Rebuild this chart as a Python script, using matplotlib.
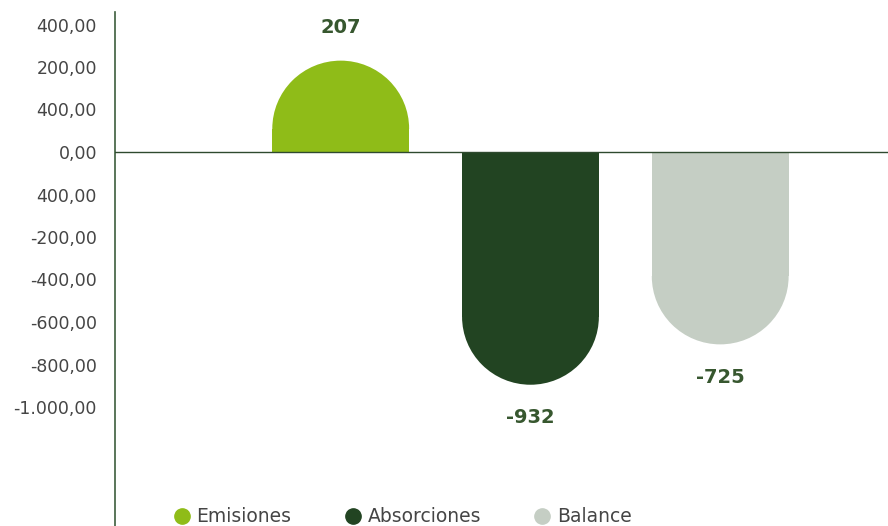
import matplotlib.pyplot as plt
from matplotlib.patches import Rectangle, Ellipse
from matplotlib.lines import Line2D

categories = ["Emisiones", "Absorciones", "Balance"]
values = [207, -932, -725]
colors = ["#8fbc18", "#224422", "#c5cec4"]
tick_labels = ["400,00", "200,00", "400,00", "0,00", "400,00", "-200,00",
               "-400,00", "-600,00", "-800,00", "-1.000,00"]

W, H = 888, 526
fig = plt.figure(figsize=(W / 100, H / 100), dpi=100)
ax = fig.add_axes([115 / W, 0, 1 - 115 / W, (H - 12) / H])

units_per_px = 1 / 0.195
ax.set_ylim(-(H - 152) * units_per_px, (152 - 12) * units_per_px)
x_per_px = 1 / 190
ax.set_xlim(-(341 - 115) * x_per_px, 2 + (888 - 720) * x_per_px)

bar_w = 137 * x_per_px
radius_y = 68 * units_per_px    # half-circle cap height in data units
extra = 51 * units_per_px       # rounded end sticks out past the value

for i, (v, c) in enumerate(zip(values, colors)):
    sign = 1 if v > 0 else -1
    end = v + sign * extra
    body_end = end - sign * radius_y
    ax.add_patch(Rectangle((i - bar_w / 2, 0), bar_w, body_end, color=c, lw=0))
    cap = Ellipse((i, body_end), bar_w, 2 * radius_y, color=c, lw=0)
    ax.add_patch(cap)
    clip = Rectangle((i - bar_w, body_end), 2 * bar_w, sign * radius_y * 1.1,
                     transform=ax.transData, visible=False)
    ax.add_patch(clip)
    cap.set_clip_path(clip)
    ax.annotate(str(v), (i, end), xytext=(0, 23.5 * sign), textcoords="offset points",
                ha="center", va="center", fontsize=14, fontweight="bold", color="#37572f")

ax.axhline(0, color="#2f4a2f", lw=1, zorder=3)
for s in ["top", "right", "bottom"]:
    ax.spines[s].set_visible(False)
ax.spines["left"].set_color("#3d5e3d")
ax.spines["left"].set_linewidth(1.2)
ax.set_xticks([])
step = 42.5 * units_per_px
ax.set_yticks([step * (3 - k) for k in range(len(tick_labels))])
ax.set_yticklabels(tick_labels)
ax.tick_params(axis="y", length=0, pad=13, labelsize=12.5, labelcolor="#454545")

handles = [Line2D([], [], marker="o", ls="", markersize=11, color=c) for c in colors]
fig.legend(handles, categories, loc="center", bbox_to_anchor=(401 / W, 9 / H), ncol=3,
           frameon=False, fontsize=13.5, handletextpad=0.2, columnspacing=2.65,
           labelcolor="#454545", handlelength=1.2)

fig.savefig("out.png", dpi=100)
